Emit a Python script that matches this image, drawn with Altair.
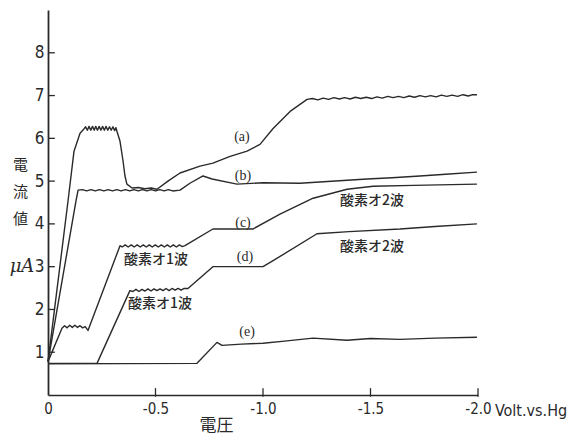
import altair as alt
import pandas as pd

# Polarographic current-voltage curves (a)-(e); voltage vs. Hg pool, current in microamperes.
a_volt = [0.0, -0.093, -0.121, -0.149, -0.167,
          -0.175, -0.183, -0.191, -0.199, -0.207, -0.215, -0.222, -0.230, -0.238, -0.246,
          -0.254, -0.262, -0.270, -0.278, -0.286, -0.294, -0.302, -0.310, -0.316, -0.321,
          -0.335, -0.349, -0.358, -0.367, -0.391, -0.420, -0.450, -0.480, -0.507,
          -0.558, -0.614, -0.707, -0.767, -0.847, -0.926, -0.986, -1.047, -1.126, -1.205,
          -1.230, -1.255, -1.280, -1.305, -1.330, -1.355, -1.380, -1.405, -1.430, -1.455,
          -1.480, -1.505, -1.530, -1.555, -1.580, -1.605, -1.630, -1.655, -1.680, -1.705,
          -1.730, -1.755, -1.780, -1.805, -1.830, -1.855, -1.880, -1.905, -1.930, -1.955,
          -1.975, -1.995]
a_amp = [0.78, 4.53, 5.70, 6.12, 6.22,
         6.27, 6.19, 6.28, 6.19, 6.28, 6.19, 6.28, 6.19, 6.28, 6.19,
         6.28, 6.19, 6.28, 6.19, 6.27, 6.19, 6.27, 6.18, 6.25, 6.16,
         5.93, 5.47, 5.12, 4.93, 4.84, 4.85, 4.82, 4.84, 4.81,
         5.00, 5.19, 5.35, 5.42, 5.58, 5.70, 5.86, 6.23, 6.63, 6.91,
         6.93, 6.90, 6.94, 6.91, 6.95, 6.92, 6.95, 6.92, 6.96, 6.93,
         6.96, 6.93, 6.97, 6.94, 6.98, 6.95, 6.98, 6.95, 6.99, 6.96,
         7.00, 6.97, 7.00, 6.97, 7.01, 6.98, 7.01, 6.98, 7.02, 6.99,
         7.02, 7.02]

b_volt = [0.0, -0.130, -0.140, -0.160, -0.180, -0.200, -0.220, -0.240, -0.260, -0.280,
          -0.300, -0.320, -0.340, -0.360, -0.380, -0.400, -0.420, -0.440, -0.460, -0.480,
          -0.500, -0.520, -0.540, -0.560, -0.580, -0.614, -0.660, -0.721, -0.763, -0.879,
          -1.000, -1.172, -1.300, -1.484, -1.600, -1.730, -1.850, -1.995]
b_amp = [0.78, 4.53, 4.79, 4.80, 4.77, 4.80, 4.77, 4.80, 4.77, 4.80,
         4.77, 4.80, 4.77, 4.80, 4.77, 4.80, 4.77, 4.80, 4.77, 4.80,
         4.77, 4.80, 4.77, 4.80, 4.77, 4.79, 4.95, 5.12, 5.05, 4.93,
         4.96, 4.95, 4.99, 5.05, 5.08, 5.12, 5.16, 5.21]

c_volt = [0.0, -0.065, -0.077, -0.089, -0.101, -0.113, -0.125, -0.137, -0.149, -0.161,
          -0.173, -0.186, -0.335,
          -0.345, -0.359, -0.373, -0.387, -0.401, -0.415, -0.429, -0.443, -0.457, -0.471,
          -0.485, -0.499, -0.513, -0.527, -0.541, -0.555, -0.569, -0.583, -0.597, -0.611,
          -0.625, -0.637, -0.767, -0.953, -1.079, -1.233, -1.391, -1.512, -1.700, -1.995]
c_amp = [0.78, 1.56, 1.62, 1.57, 1.63, 1.58, 1.63, 1.58, 1.62, 1.57,
         1.60, 1.51, 3.49,
         3.46, 3.51, 3.46, 3.51, 3.46, 3.51, 3.46, 3.51, 3.46, 3.51,
         3.46, 3.51, 3.46, 3.51, 3.46, 3.51, 3.46, 3.51, 3.46, 3.51,
         3.47, 3.49, 3.88, 3.88, 4.23, 4.60, 4.81, 4.88, 4.90, 4.93]

d_volt = [0.0, -0.228, -0.381,
          -0.395, -0.409, -0.423, -0.437, -0.451, -0.465, -0.479, -0.493, -0.507, -0.521,
          -0.535, -0.549, -0.563, -0.577, -0.591, -0.605, -0.619, -0.633, -0.651,
          -0.767, -1.000, -1.047, -1.251, -1.400, -1.637, -1.800, -1.995]
d_amp = [0.74, 0.74, 2.44,
         2.42, 2.47, 2.42, 2.47, 2.43, 2.48, 2.43, 2.48, 2.44, 2.48,
         2.44, 2.49, 2.44, 2.49, 2.45, 2.49, 2.45, 2.49, 2.49,
         3.00, 3.00, 3.14, 3.77, 3.82, 3.88, 3.94, 4.00]

e_volt = [0.0, -0.693, -0.786, -0.809, -0.900, -1.000, -1.100, -1.233, -1.391, -1.500,
          -1.637, -1.800, -1.995]
e_amp = [0.73, 0.74, 1.23, 1.16, 1.19, 1.21, 1.26, 1.33, 1.28, 1.32,
         1.30, 1.33, 1.35]

curves = {"a": (a_volt, a_amp), "b": (b_volt, b_amp), "c": (c_volt, c_amp),
          "d": (d_volt, d_amp), "e": (e_volt, e_amp)}

rows = []
for name, (vs, cs) in curves.items():
    for i, (v, c) in enumerate(zip(vs, cs)):
        rows.append({"curve": name, "i": i, "volt": v, "amp": c})
df = pd.DataFrame(rows)

# curve letters and wave annotations
tag_text = ["(a)", "(b)", "(c)", "(d)", "(e)"]
tag_volt = [-0.902, -0.907, -0.907, -0.916, -0.926]
tag_amp = [6.02, 5.12, 4.02, 3.23, 1.47]

wave_text = ["酸素オ1波", "酸素オ1波", "酸素オ2波", "酸素オ2波"]
wave_volt = [-0.502, -0.521, -1.507, -1.507]
wave_amp = [3.16, 2.12, 4.53, 3.47]

x_ticks = [0, -0.5, -1.0, -1.5, -2.0]
y_ticks = [1, 2, 3, 4, 5, 6, 7, 8]

INK = "#2a2a2a"
NUM_FONT = "Liberation Sans Narrow, DejaVu Sans Condensed, Liberation Sans"
JP_FONT = "Noto Sans CJK JP"

xs = alt.Scale(domain=[0, -2.0], nice=False, zero=False)
ys = alt.Scale(domain=[0, 9], nice=False, zero=False)

x_axis = alt.Axis(
    values=x_ticks,
    labelExpr="datum.value == 0 ? '0' : '-' + format(-datum.value, '.1f')",
    ticks=False, grid=False, labelFlush=False,
    domainColor=INK, domainWidth=1.6,
    labelFont=NUM_FONT, labelFontSize=15, labelColor=INK, labelPadding=6,
    title="電圧", titleFont=JP_FONT, titleFontSize=17, titleFontWeight="normal",
    titleColor=INK, titleX=168, titleY=30, titleAlign="center", titleBaseline="middle",
)
y_axis = alt.Axis(
    values=y_ticks, ticks=False, grid=False,
    domainColor=INK, domainWidth=1.8,
    labelFont=NUM_FONT, labelFontSize=17, labelColor=INK, labelPadding=4,
    title=["電", "流", "値"], titleFont=JP_FONT, titleFontSize=15,
    titleFontWeight="normal", titleColor=INK, titleAngle=0, titleLineHeight=27,
    titleX=-28, titleY=147, titleAlign="center", titleBaseline="top",
)

lines = alt.Chart(df).mark_line(color=INK, strokeWidth=1.4, strokeJoin="round").encode(
    x=alt.X("volt:Q", scale=xs, axis=x_axis),
    y=alt.Y("amp:Q", scale=ys, axis=y_axis),
    detail="curve:N",
    order="i:Q",
)

xt = alt.Chart(pd.DataFrame({"v": x_ticks[1:]})).mark_rule(color=INK, strokeWidth=1.3).encode(
    x=alt.X("v:Q", scale=xs), y=alt.Y(datum=-0.04, scale=ys), y2=alt.Y2(datum=0.16)
)
yt = alt.Chart(pd.DataFrame({"a": y_ticks})).mark_rule(color=INK, strokeWidth=1.3).encode(
    y=alt.Y("a:Q", scale=ys), x=alt.X(datum=0.0, scale=xs), x2=alt.X2(datum=-0.032)
)

tags = alt.Chart(pd.DataFrame({"t": tag_text, "v": tag_volt, "a": tag_amp})).mark_text(
    font="Liberation Serif", fontSize=14, color=INK
).encode(x=alt.X("v:Q", scale=xs), y=alt.Y("a:Q", scale=ys), text="t:N")

waves = alt.Chart(pd.DataFrame({"t": wave_text, "v": wave_volt, "a": wave_amp})).mark_text(
    font=JP_FONT, fontSize=14, color=INK, fontWeight=500
).encode(x=alt.X("v:Q", scale=xs), y=alt.Y("a:Q", scale=ys), text="t:N")

# current unit beside the 3 μA tick
unit_y = alt.Chart(pd.DataFrame({"t": ["μA"]})).mark_text(
    font="DejaVu Serif", fontSize=18, fontStyle="italic", color=INK, align="center", dx=-26
).encode(x=alt.X(datum=0.0, scale=xs), y=alt.Y(datum=3.0, scale=ys), text="t:N")

unit_x = alt.Chart(pd.DataFrame({"t": ["Volt.vs.Hg"]})).mark_text(
    font=NUM_FONT, fontSize=16, color=INK, align="center", dx=53, dy=16
).encode(x=alt.X(datum=-2.0, scale=xs), y=alt.Y(datum=0.0, scale=ys), text="t:N")

chart = alt.layer(lines, xt, yt, tags, waves, unit_y, unit_x).properties(
    width=430, height=385,
    autosize=alt.AutoSizeParams(type="none"),
    padding={"left": 48, "top": 10, "right": 92, "bottom": 44},
    background="white",
).configure_view(stroke=None)

chart.save("out.html", embed_options={"renderer": "svg", "actions": False})
